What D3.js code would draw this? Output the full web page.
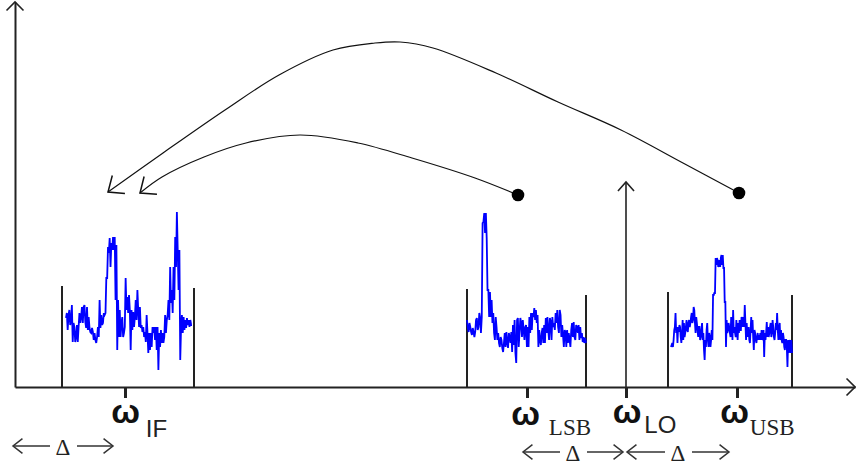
<!DOCTYPE html>
<html><head><meta charset="utf-8">
<script src="https://cdn.jsdelivr.net/npm/d3@7"></script>
<style>html,body{margin:0;padding:0;background:#fff;} svg{display:block}</style>
</head><body><svg id="c" width="856" height="468"></svg>
<script>
// ---------- data ----------
const markerNames = ["IF", "LSB", "LO", "USB"];
const markerFreqs = [110, 512, 611, 722];

const bandNames = ["IF", "LSB", "USB"];
const bandEdges = [[47, 179], [452, 571], [653, 777]];
const bandEdgeHeights = [[101, 99], [98, 92], [95, 92]];
const spectrumRanges = [[51, 177], [452, 571], [656, 777]];

const ifSpectrum = [69,74,57,72,77,62,67,82,45,64,60,45,50,62,45,60,74,64,70,80,64,80,82,65,59,80,57,70,59,55,54,59,55,47,54,47,44,50,60,50,87,59,72,62,64,74,72,74,
109,109,140,134,149,120,144,137,150,137,150,87,142,37,87,50,77,50,64,70,50,54,60,109,77,90,74,92,77,37,77,57,75,60,70,87,67,97,77,60,80,59,62,55,60,50,55,45,72,54,34,54,37,54,40,60,54,60,47,60,37,60,17,54,40,57,44,54,44,50,72,54,67,72,87,67,120,84,97,74,120,87,150,120,175,137,97,137,27,60,72,54,70,57,67,59,69,62,67,60,67,62,62];

const lsbSpectrum = [67,59,55,64,60,55,52,59,55,50,55,67,69,57,60,74,69,54,
70,164,165,174,154,174,149,97,
97,70,95,70,87,64,74,54,47,70,60,47,54,44,40,50,47,39,35,44,54,40,55,45,39,54,50,44,55,35,62,42,67,34,24,67,69,40,54,69,64,50,67,57,47,60,62,40,60,40,70,54,74,57,74,70,79,67,77,64,72,40,57,47,42,54,59,44,62,44,69,54,70,57,47,69,65,47,70,60,64,57,74,64,77,60,54,77,72,50,62,52,40,57,55,40,57,44,54,47,40,57,64,50,65,50,47,62,60,54,62,47,60,49,54,45,50,44,49,44];

const usbSpectrum = [40,42,44,40,47,57,60,74,54,60,44,60,55,62,60,50,44,54,67,47,64,50,54,60,67,57,55,64,67,60,64,70,74,64,67,80,77,64,54,70,64,57,50,60,60,47,50,57,64,47,54,37,27,47,40,57,64,47,40,54,50,40,47,57,47,92,92,94,94,129,122,129,127,120,122,127,120,129,132,122,132,119,119,85,85,40,67,54,57,64,60,54,50,70,64,47,77,54,60,54,50,67,57,47,64,54,67,57,57,70,67,60,70,60,82,64,47,64,50,57,60,47,44,57,70,54,67,50,37,57,54,47,44,50,54,47,52,47,54,47,57,50,47,57,30,54,47,54,65,50,60,50,54,60,64,50,54,67,60,50,47,54,64,57,74,57,47,60,64,47,57,47,44,54,50,40,37,47,47,40,20,47,34,47,44,34,47,34];

const deltaSpans = [[-2, 98], [508, 608], [612, 714]];
const loArrowHeight = 205;
const dotPoints = [[503, 192], [724, 194]];
const innerArc = [[503,192],[460,209],[397,229],[343,244],[285,252],[231,244],[189,230],[147,210],[125,194]];
const outerArc = [[724,194],[668,224],[606,257],[543,285],[481,314],[418,339],[385,345],[360,344],[318,337],[264,312],[210,277],[148,234],[93,195]];

// ---------- drawing ----------
const svg = d3.select("#c");
const x = d3.scaleLinear().domain([0, 840]).range([15, 855]);
const y = d3.scaleLinear().domain([0, 385]).range([387, 2]);
const ink = "#222";

function chevron(tx, ty, dx, dy, len, angDeg) {
  const a = Math.atan2(-dy, -dx), t = angDeg * Math.PI / 180;
  const p1 = [tx + len * Math.cos(a + t), ty + len * Math.sin(a + t)];
  const p2 = [tx + len * Math.cos(a - t), ty + len * Math.sin(a - t)];
  return `M${p1[0]},${p1[1]}L${tx},${ty}L${p2[0]},${p2[1]}`;
}

// axes
const xAxis = d3.axisBottom(x).tickValues(markerFreqs).tickFormat("").tickSize(11).tickSizeOuter(0);
const gx = svg.append("g").attr("transform", `translate(0,${y(0)})`).call(xAxis);
gx.select(".domain").attr("stroke", ink).attr("stroke-width", 2);
gx.selectAll(".tick line").attr("stroke", ink).attr("stroke-width", 3);
const yAxis = d3.axisLeft(y).tickValues([]).tickSizeOuter(0);
const gy = svg.append("g").attr("transform", `translate(${x(0)},0)`).call(yAxis);
gy.select(".domain").attr("stroke", ink).attr("stroke-width", 2);
svg.append("path").attr("d", chevron(x(0), y(385), 0, -1, 12, 45)).attr("fill", "none").attr("stroke", ink).attr("stroke-width", 1.6);
svg.append("path").attr("d", chevron(x(840), y(0), 1, 0, 12, 45)).attr("fill", "none").attr("stroke", ink).attr("stroke-width", 1.6);

// band edge bars
bandEdges.forEach((e, i) => {
  e.forEach((f, j) => {
    svg.append("line").attr("x1", x(f)).attr("x2", x(f))
      .attr("y1", y(0)).attr("y2", y(bandEdgeHeights[i][j]))
      .attr("stroke", ink).attr("stroke-width", 2);
  });
});

// spectra
const spectra = [ifSpectrum, lsbSpectrum, usbSpectrum];
spectra.forEach((s, i) => {
  const [f0, f1] = spectrumRanges[i];
  const line = d3.line().x((d, k) => x(f0 + k * (f1 - f0) / (s.length - 1))).y(d => y(d));
  svg.append("path").datum(s).attr("d", line).attr("fill", "none")
    .attr("stroke", "#0000ff").attr("stroke-width", 1.8).attr("stroke-linejoin", "miter");
});

// LO arrow
const loF = markerFreqs[markerNames.indexOf("LO")];
svg.append("line").attr("x1", x(loF)).attr("x2", x(loF)).attr("y1", y(0)).attr("y2", y(loArrowHeight))
  .attr("stroke", ink).attr("stroke-width", 1.6);
svg.append("path").attr("d", chevron(x(loF), y(loArrowHeight), 0, -1, 12, 42)).attr("fill", "none").attr("stroke", ink).attr("stroke-width", 1.6);

// arcs
const arcLine = d3.line().x(d => x(d[0])).y(d => y(d[1])).curve(d3.curveCatmullRom.alpha(0.5));
[innerArc, outerArc].forEach(arc => {
  svg.append("path").datum(arc).attr("d", arcLine).attr("fill", "none").attr("stroke", "#111").attr("stroke-width", 1.2);
  const n = arc.length, a = arc[n - 2], b = arc[n - 1];
  const tx = x(b[0]), ty = y(b[1]);
  svg.append("path").attr("d", chevron(tx, ty, tx - x(a[0]), ty - y(a[1]), 17, 40))
    .attr("fill", "none").attr("stroke", "#111").attr("stroke-width", 1.5);
});
dotPoints.forEach(p => svg.append("circle").attr("cx", x(p[0])).attr("cy", y(p[1])).attr("r", 6.3).attr("fill", "#000"));

// labels (layout offsets per label, in px)
const omegaShift = { IF: 0.5, LSB: -1.5, LO: 1, USB: -2.5 };
const subGap = { IF: 6, LSB: 9, LO: 3, USB: 1 };
const serifSubs = ["LSB", "USB"];
markerNames.forEach((nm, i) => {
  const cx = x(markerFreqs[i]) + omegaShift[nm];
  const w = svg.append("text").attr("x", cx).attr("y", nm === "LSB" ? 425 : 423)
    .attr("text-anchor", "middle")
    .attr("font-family", "'Liberation Sans', sans-serif").attr("font-size", 34).attr("font-weight", "bold")
    .attr("fill", "#111").text("ω");
  const bb = w.node().getBBox();
  svg.append("text").attr("x", bb.x + bb.width + subGap[nm]).attr("y", nm === "LO" ? 433 : (serifSubs.includes(nm) ? 435 : 437))
    .attr("font-family", serifSubs.includes(nm) ? "'Liberation Serif', serif" : "'Liberation Sans', sans-serif")
    .attr("font-size", serifSubs.includes(nm) ? 23 : 24).attr("fill", "#222").text(nm);
});

// delta spans
deltaSpans.forEach((s, i) => {
  const x0 = x(s[0]), x1 = x(s[1]), cx = (x0 + x1) / 2;
  const yy = i === 0 ? 446 : 452;
  const g = svg.append("g").attr("fill", "none").attr("stroke", "#333").attr("stroke-width", 1.5);
  g.append("line").attr("x1", x0).attr("x2", cx - 13).attr("y1", yy).attr("y2", yy);
  g.append("line").attr("x1", cx + 14).attr("x2", x1).attr("y1", yy).attr("y2", yy);
  g.append("path").attr("d", chevron(x0, yy, -1, 0, 12, 38));
  g.append("path").attr("d", chevron(x1, yy, 1, 0, 12, 38));
  svg.append("text").attr("x", cx).attr("y", yy + 8.5).attr("text-anchor", "middle")
    .attr("font-family", "'Liberation Serif', serif").attr("font-size", 23).attr("fill", "#222").text("Δ");
});
</script></body></html>
